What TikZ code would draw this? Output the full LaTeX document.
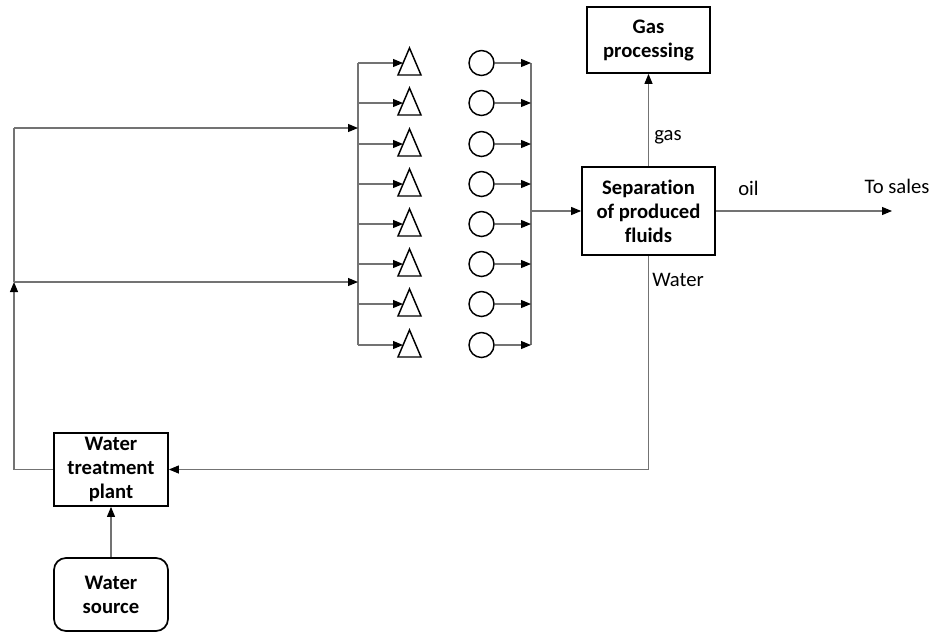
\documentclass[tikz,border=0pt]{standalone}
\usepackage{fontspec}
\setmainfont{Carlito}[Ligatures={NoCommon}]
\usetikzlibrary{arrows.meta}
\tikzset{
  box/.style={draw=black, line width=1.3pt, align=center, inner sep=0pt, font=\fontsize{15.5}{18}\selectfont\bfseries},
  rbox/.style={box, rounded corners=9pt},
  conn/.style={draw=black!55, line width=0.8pt},
  arr/.style={conn, -{Triangle[length=7.5pt,width=6pt,color=black]}},
  lbl/.style={font=\fontsize{15.5}{18}\selectfont, inner sep=0pt},
  shp/.style={draw=black, line width=1.1pt}
}
\begin{document}
\begin{tikzpicture}[x=0.75pt,y=-0.75pt]
\useasboundingbox (0,0) rectangle (932,632);
% boxes
\node[box, minimum width=92.25pt, minimum height=49.5pt] (gas) at (648.5,40) {Gas\\processing};
\node[box, minimum width=99.75pt, minimum height=66pt] (sep) at (648.5,211) {Separation\\of produced\\fluids};
\node[box, minimum width=85.5pt, minimum height=54.75pt] (wtp) at (111,469.5) {Water\\treatment\\plant};
\node[rbox, minimum width=85.5pt, minimum height=54.75pt] (src) at (111,594.5) {Water\\source};
% buses
\coordinate (lbt) at (358,63);
\coordinate (lbb) at (358,345);
\coordinate (rbt) at (531,63);
\coordinate (rbb) at (531,345);
\draw[conn] (lbt) -- (lbb);
\draw[conn] (rbt) -- (rbb);
% wells
\foreach \y [count=\i] in {63,103,144,184,224,264,304,345} {
  \coordinate (lb\i) at (358,\y);
  \coordinate (ti\i) at (403,\y);
  \draw[shp] (398,\y+12) -- (421,\y+12) -- (409.5,\y-15) -- cycle;
  \draw[arr] (lb\i) -- (ti\i);
  \node[shp, circle, minimum size=18.75pt, inner sep=0pt] (c\i) at (481.5,\y) {};
  \coordinate (rb\i) at (531,\y);
  \draw[arr] (c\i.east) -- (rb\i);
}
% injection lines
\coordinate (l1) at (14,128);
\coordinate (l2) at (14,282);
\coordinate (l3) at (14,469.5);
\coordinate (i1) at (358,128);
\coordinate (i2) at (358,282);
\draw[arr] (l1) -- (i1);
\draw[arr] (l2) -- (i2);
\draw[conn] (l1) -- (l2);
\draw[arr] (wtp.west) -- (l3) -- (l2);
% to separation
\coordinate (rbm) at (531,211);
\draw[arr] (rbm) -- (sep.west);
\coordinate (sales) at (892,211);
\draw[arr] (sep.east) -- (sales);
\draw[arr] (sep.north) -- (gas.south);
\coordinate (wc) at (648.5,469.5);
\draw[arr] (sep.south) -- (wc) -- (wtp.east);
\draw[arr] (src.north) -- (wtp.south);
% labels
\node[lbl, anchor=west] at (654,137) {gas};
\node[lbl, anchor=west] at (738,188) {oil};
\node[lbl] at (897,186) {To sales};
\node[lbl, anchor=west] at (652,280) {Water};
\end{tikzpicture}
\end{document}
